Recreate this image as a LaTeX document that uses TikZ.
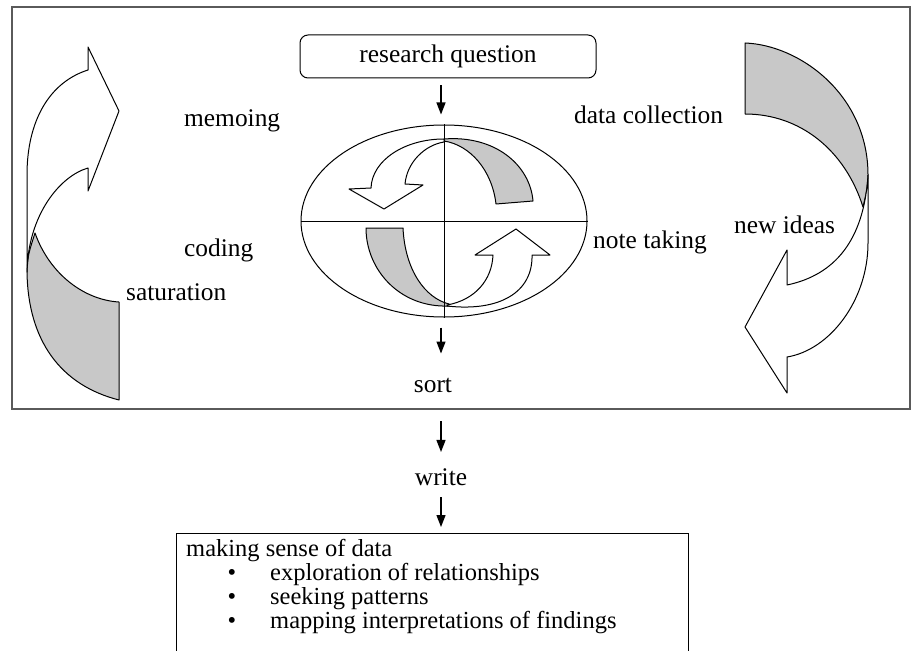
\documentclass[tikz,border=0pt]{standalone}
\usepackage{fontspec}
\setmainfont{Liberation Serif}
\usetikzlibrary{shapes.geometric,arrows.meta}
\definecolor{backgray}{RGB}{200,200,200}
\definecolor{framegray}{RGB}{90,90,90}
\begin{document}
\begin{tikzpicture}[x=1pt,y=-1pt,
  shp/.style={draw=black, line width=1pt, line join=round},
  back/.style={shp, fill=backgray},
  front/.style={shp, fill=white},
  arr/.style={line width=1.3pt, -{Triangle[length=12pt,width=9pt]}},
  lbl/.style={inner sep=0pt, anchor=base west, font=\fontsize{25.4}{30}\selectfont},
  boxtxt/.style={inner sep=0pt, anchor=base west, font=\fontsize{24.5}{28}\selectfont},
]
\useasboundingbox (0,0) rectangle (912,650);
% outer frame
\draw[framegray, line width=1.2pt] (12,7) rectangle (910,409);

% left curved arrow
\path[back] (35,233) .. controls (50,275) and (85,300) .. (119,302) -- (119,400)
  .. controls (60,385) and (28,340) .. (27,272) .. controls (28,255) .. (35,233) -- cycle;
\path[front] (27,272) -- (27,175) .. controls (27,120) and (50,82) .. (88,70) -- (88,47)
  -- (119,111) -- (88,191) -- (88,168) .. controls (60,176) and (28,215) .. (27,272) -- cycle;

% right curved arrow
\path[back] (745,43) .. controls (800,45) and (868,95) .. (868,175)
  .. controls (867,190) .. (863,207) .. controls (845,150) and (800,114) .. (745,114) -- cycle;
\path[front] (868,175) -- (868,243) .. controls (868,300) and (830,350) .. (787,357)
  -- (787,393) -- (745,327) -- (787,250) -- (787,285)
  .. controls (835,275) and (864,240) .. (868,175) -- cycle;

% central ellipse
\node[draw, ellipse, line width=1pt, minimum width=286pt, minimum height=192pt, inner sep=0pt] (ell) at (444,221) {};
\path[back] (444,139) .. controls (495,135) and (530,165) .. (533,201) -- (496,204)
  .. controls (492,170) and (470,145) .. (444,141) -- cycle;
\path[back] (366,228) -- (403,228) .. controls (405,270) and (425,298) .. (449,304)
  -- (449,306) .. controls (400,308) and (366,270) .. (366,228) -- cycle;
\path[front] (444,139) .. controls (405,139) and (372,160) .. (371,188) -- (349,189)
  -- (384,209) -- (423,185) -- (405,184) .. controls (407,162) and (425,145) .. (444,142) -- cycle;
\path[front] (447,305) .. controls (475,300) and (492,280) .. (493,255) -- (475,255)
  -- (516,229) -- (550,255) -- (532,255) .. controls (533,292) and (500,312) .. (447,306) -- cycle;
\draw[line width=1pt] (ell.north) -- (ell.south);
\draw[line width=1pt] (ell.west) -- (ell.east);

% research question
\node[draw, line width=1pt, rounded corners=8pt, minimum width=296pt, minimum height=43pt, inner sep=0pt,
  font=\fontsize{25.4}{30}\selectfont] (rq) at (448,56.5) {research question};

% labels
\node[lbl] (memo) at (184,126) {memoing};
\node[lbl] (cod) at (184,256) {coding};
\node[lbl] (sat) at (126,300) {saturation};
\node[lbl] (dc) at (574,124) {data collection};
\node[lbl] (nt) at (593,248) {note taking};
\node[lbl] (ni) at (734,233) {new ideas};
\node[lbl, anchor=base] (sort) at (433,392) {sort};
\node[lbl, anchor=base] (write) at (441,485) {write};

% bottom box
\node[draw, line width=1pt, anchor=north west, minimum width=512pt, minimum height=140pt, inner sep=0pt] (box) at (176,533) {};
\node[boxtxt] (msd) at (186,556) {making sense of data};
\node[boxtxt, anchor=base] (b1) at (232,580) {•};
\node[boxtxt] (t1) at (270,580) {exploration of relationships};
\node[boxtxt, anchor=base] (b2) at (232,604) {•};
\node[boxtxt] (t2) at (270,604) {seeking patterns};
\node[boxtxt, anchor=base] (b3) at (232,628) {•};
\node[boxtxt] (t3) at (270,628) {mapping interpretations of findings};

% arrows
\coordinate (ax) at (441,0);
\draw[arr, shorten <=7pt, shorten >=10pt] (rq.south -| ax) -- (ell.north -| ax);
\draw[arr, shorten <=10pt, shorten >=24pt] (ell.south -| ax) -- (sort.north -| ax);
\draw[arr, shorten <=29pt, shorten >=16pt] (sort.south -| ax) -- (write.north -| ax);
\draw[arr, shorten <=12pt, shorten >=6pt] (write.south -| ax) -- (box.north -| ax);
\end{tikzpicture}
\end{document}
